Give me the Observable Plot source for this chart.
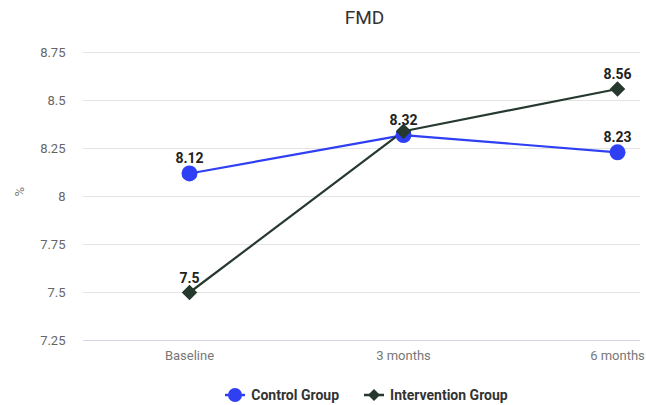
<!DOCTYPE html>
<html>
<head>
<meta charset="utf-8">
<script src="https://cdn.jsdelivr.net/npm/d3@7"></script>
<script src="https://cdn.jsdelivr.net/npm/@observablehq/plot@0.6"></script>
<style>
  body { margin: 0; background: #fff; font-family: Roboto, "Noto Sans", sans-serif; }
  #title { height: 36px; line-height: 36px; font-size: 19px; color: #333; padding-left: 83px; text-align: center; }
  #legend { display: flex; justify-content: center; gap: 24px; height: 34px; padding-top: 14px; box-sizing: border-box; align-items: center; padding-left: 86px; font-size: 14px; font-weight: bold; color: #333; }
  #legend span { display: flex; align-items: center; gap: 5px; }
</style>
</head>
<body>
<div id="title">FMD</div>
<div id="chart"></div>
<div id="legend"></div>
<script>
const timepoints = ["Baseline", "3 months", "6 months"];
const controlValues = [8.12, 8.32, 8.23];
const interventionValues = [7.5, 8.34, 8.56];
const interventionLabels = ["7.5", null, "8.56"];
const controlLabels = ["8.12", "8.32", "8.23"];
const yTicks = [7.25, 7.5, 7.75, 8, 8.25, 8.5, 8.75];

const seriesNames = ["Control Group", "Intervention Group"];
const colors = { "Control Group": "#2f3ff4", "Intervention Group": "#26392f" };

const control = timepoints.map((t, i) => ({ t, v: controlValues[i], label: controlLabels[i], s: seriesNames[0] }));
const intervention = timepoints.map((t, i) => ({ t, v: interventionValues[i], label: interventionLabels[i], s: seriesNames[1] }));

const chart = Plot.plot({
  width: 646,
  height: 335,
  marginTop: 16,
  marginBottom: 31,
  marginLeft: 83,
  marginRight: 6,
  style: { fontFamily: "Roboto, sans-serif", fontSize: "13px", color: "#666" },
  x: { type: "point", domain: timepoints, range: [189, 617], padding: 0, label: null },
  y: { domain: [7.25, 8.75], label: null },
  marks: [
    Plot.gridY(yTicks.slice(1), { stroke: "#e4e4e4", strokeOpacity: 1, strokeWidth: 1 }),
    Plot.ruleY([7.25], { stroke: "#d4d6e6", strokeWidth: 1 }),
    Plot.axisX({ tickSize: 0, tickPadding: 10, fill: "#777", fontSize: 13 }),
    Plot.axisY({ ticks: yTicks, tickFormat: d => String(d), tickSize: 0, tickPadding: 18, fill: "#666", fontSize: 13, label: null }),
    Plot.text(["%"], { frameAnchor: "left", dx: -64, rotate: -90, fill: "#777", fontSize: 13 }),
    Plot.line(control, { x: "t", y: "v", stroke: colors["Control Group"], strokeWidth: 2.2 }),
    Plot.line(intervention, { x: "t", y: "v", stroke: colors["Intervention Group"], strokeWidth: 2.2 }),
    Plot.dot(control, { x: "t", y: "v", r: 8, fill: colors["Control Group"], symbol: "circle" }),
    Plot.dot(intervention, { x: "t", y: "v", r: 7, fill: colors["Intervention Group"], symbol: "diamond2" }),
    Plot.text(control.filter(d => d.label), { x: "t", y: "v", text: "label", dy: -15, fill: "#222", fontWeight: "bold", fontSize: 14 }),
    Plot.text(intervention.filter(d => d.label), { x: "t", y: "v", text: "label", dy: -14, fill: "#222", fontWeight: "bold", fontSize: 14 })
  ]
});
document.getElementById("chart").appendChild(chart);

// legend
const legend = d3.select("#legend");
seriesNames.forEach(name => {
  const item = legend.append("span");
  const svg = item.append("svg").attr("width", 22).attr("height", 16);
  svg.append("line").attr("x1", 1).attr("x2", 21).attr("y1", 8).attr("y2", 8)
    .attr("stroke", colors[name]).attr("stroke-width", 2.5);
  if (name === "Control Group") {
    svg.append("circle").attr("cx", 11).attr("cy", 8).attr("r", 7).attr("fill", colors[name]);
  } else {
    svg.append("path").attr("d", "M11,2 L17,8 L11,14 L5,8 Z").attr("fill", colors[name]);
  }
  item.append("span").text(name);
});
</script>
</body>
</html>
